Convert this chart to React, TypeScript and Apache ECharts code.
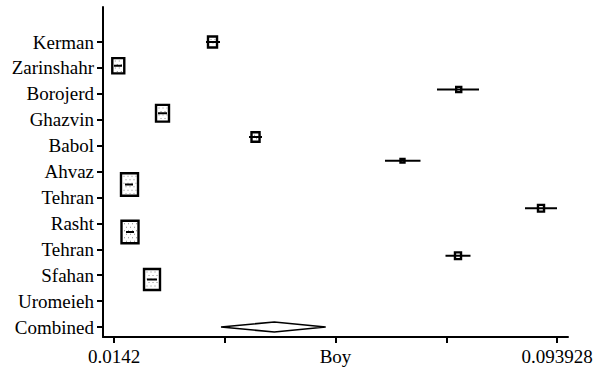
import React, { useEffect, useRef } from "react";
import * as echarts from "echarts";

const rowLabels = ["Kerman", "Zarinshahr", "Borojerd", "Ghazvin", "Babol", "Ahvaz", "Tehran", "Rasht", "Tehran", "Sfahan", "Uromeieh", "Combined"];
const xTickLabels = ["0.0142", "", "Boy", "", "0.093928"];
const estimates = [0.03193, 0.01497, 0.07624, 0.02293, 0.03967, 0.06612, 0.01699, 0.09105, 0.01708, 0.07611, 0.02104];
const lowerCI = [0.03076, 0.0142, 0.07233, 0.02212, 0.0385, 0.06297, 0.01618, 0.08817, 0.01636, 0.07386, 0.02014];
const upperCI = [0.03328, 0.01564, 0.07989, 0.02374, 0.04084, 0.06936, 0.01762, 0.093928, 0.0178, 0.07836, 0.02194];
const weights = [6.4, 10.3, 2.6, 11.8, 5.3, 1.9, 19.0, 3.4, 19.0, 3.4, 17.0];
const pooledEstimate = 0.04305;
const pooledLower = 0.03346;
const pooledUpper = 0.0523;

const FONT = "'Liberation Serif', 'Times New Roman', 'DejaVu Serif', serif";

export default function App() {
  const ref = useRef<HTMLDivElement>(null);
  useEffect(() => {
    document.body.style.margin = "0";
    const chart = echarts.init(ref.current!, null, { renderer: "svg" });
    const studyData = estimates.map((e, i) => [e, lowerCI[i], upperCI[i], i, weights[i]]);
    const pooledData = [[pooledEstimate, pooledLower, pooledUpper, estimates.length + 1]];

    const option: any = {
      animation: false,
      backgroundColor: "#fff",
      grid: [
        { left: 103, right: 32, top: 7, bottom: 36 },
        { left: 103, right: 32, top: 42, bottom: 46 },
        { left: 114, right: 43, top: 7, bottom: 36 },
      ],
      xAxis: [
        {
          type: "value", gridIndex: 0, min: 0.01222, max: 0.095908, position: "bottom",
          axisLine: { show: true, onZero: false, lineStyle: { color: "#000", width: 2 } },
          axisTick: { show: false }, axisLabel: { show: false }, splitLine: { show: false },
        },
        { type: "value", gridIndex: 1, show: false },
        {
          type: "category", gridIndex: 2, data: xTickLabels, boundaryGap: false, position: "bottom",
          axisLine: { show: false },
          axisTick: { show: true, interval: 0, length: 6, lineStyle: { color: "#000", width: 2 } },
          axisLabel: { interval: 0, color: "#000", fontSize: 19, fontFamily: FONT, margin: 10 },
          splitLine: { show: false },
        },
      ],
      yAxis: [
        {
          type: "value", gridIndex: 0, inverse: true, min: -1.4737, max: 12.421, position: "left",
          axisLine: { show: true, onZero: false, lineStyle: { color: "#000", width: 2 } },
          axisTick: { show: false }, axisLabel: { show: false }, splitLine: { show: false },
        },
        {
          type: "category", gridIndex: 1, data: rowLabels, boundaryGap: false, inverse: true, position: "left",
          axisLine: { show: false },
          axisTick: { show: true, interval: 0, length: 6, lineStyle: { color: "#000", width: 2 } },
          axisLabel: { interval: 0, color: "#000", fontSize: 19, fontFamily: FONT, margin: 9 },
          splitLine: { show: false },
        },
        { type: "value", gridIndex: 2, show: false },
      ],
      series: [
        {
          type: "custom",
          xAxisIndex: 0,
          yAxisIndex: 0,
          data: studyData,
          encode: { x: [0, 1, 2], y: 3 },
          renderItem: (params: any, api: any) => {
            const est = api.value(0), lo = api.value(1), hi = api.value(2), slot = api.value(3), wt = api.value(4);
            const c = api.coord([est, slot]);
            const l = api.coord([lo, slot]);
            const h = api.coord([hi, slot]);
            const w = 4.36 * Math.sqrt(wt);
            const ht = 1.45 * w - 3;
            const x0 = c[0] - w / 2;
            const y0 = c[1] - ht / 2;
            const children: any[] = [];
            children.push({
              type: "rect",
              shape: { x: x0 + 1, y: y0 + 1, width: w - 2, height: ht - 2 },
              style: { fill: "#fff", stroke: "#000", lineWidth: 2.4 },
            });
            if (w >= 10) {
              let row = 0;
              for (let yy = y0 + 3.5; yy < y0 + ht - 3; yy += 3.5) {
                const off = row % 2 === 0 ? 0 : 2;
                for (let xx = x0 + 3.5 + off; xx < x0 + w - 3; xx += 4) {
                  children.push({
                    type: "rect",
                    shape: { x: xx, y: yy, width: 1, height: 1 },
                    style: { fill: "#8a8a8a" },
                  });
                }
                row++;
              }
            }
            children.push({
              type: "line",
              shape: { x1: l[0], y1: c[1], x2: h[0], y2: c[1] },
              style: { stroke: "#000", lineWidth: 2 },
            });
            return { type: "group", children };
          },
          z: 5,
        },
        {
          type: "custom",
          xAxisIndex: 0,
          yAxisIndex: 0,
          data: pooledData,
          encode: { x: [0, 1, 2], y: 3 },
          renderItem: (params: any, api: any) => {
            const est = api.value(0), lo = api.value(1), hi = api.value(2), slot = api.value(3);
            const c = api.coord([est, slot]);
            const l = api.coord([lo, slot]);
            const h = api.coord([hi, slot]);
            return {
              type: "polygon",
              shape: { points: [[l[0], c[1]], [c[0], c[1] - 5], [h[0], c[1]], [c[0], c[1] + 5]] },
              style: { fill: "#fff", stroke: "#000", lineWidth: 1.6 },
            };
          },
          z: 5,
        },
      ],
    };
    chart.setOption(option);
    return () => chart.dispose();
  }, []);
  return <div ref={ref} style={{ width: 600, height: 373 }} />;
}
